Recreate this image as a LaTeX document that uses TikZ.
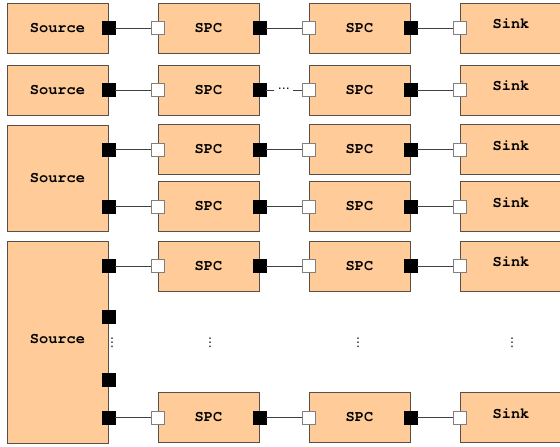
\documentclass[tikz,border=0pt]{standalone}
\usepackage{fontspec}
\newfontfamily\blockfont{TeX Gyre Cursor}
\newfontfamily\dotsfont{DejaVu Sans}
\usepackage{tikz}
\usetikzlibrary{positioning,calc}
\definecolor{blockfill}{HTML}{FFCC99}
\definecolor{blockline}{HTML}{5A5048}
\definecolor{portline}{HTML}{808080}
\definecolor{wireline}{HTML}{404040}
\def\px{0.75pt}

\begin{document}
\begin{tikzpicture}[
    x=\px, y=-\px,
    block/.style={rectangle, draw=blockline, fill=blockfill, line width=0.7pt,
                  minimum width=101*\px, minimum height=50*\px, inner sep=0pt,
                  font=\blockfont\bfseries\fontsize{11.5}{13}\selectfont},
    sinkblock/.style={block, minimum width=102*\px, text depth=6pt},
    outport/.style={rectangle, draw=black, fill=black, minimum size=13*\px, inner sep=0pt},
    inport/.style={rectangle, draw=portline, fill=white, line width=0.6pt,
                   minimum size=13*\px, inner sep=0pt},
    wire/.style={draw=wireline, line width=0.6pt},
    dotsnode/.style={inner sep=0pt, font=\dotsfont\fontsize{9}{10}\selectfont}
]
\useasboundingbox (0,0) rectangle (560,446);

% row 1: source -> spc -> spc -> sink
\node[block]     (src1)  at (57.5,28)  {Source};
\node[block]     (spc1a) at (208.5,28) {SPC};
\node[block]     (spc1b) at (359.5,28) {SPC};
\node[sinkblock] (snk1)  at (511,28)   {Sink};

% row 2: same chain, with more spc in between
\node[block]     (src2)  at (57.5,90)  {Source};
\node[block]     (spc2a) at (208.5,90) {SPC};
\node[block]     (spc2b) at (359.5,90) {SPC};
\node[sinkblock] (snk2)  at (511,90)   {Sink};

% row 3: one source, two chains
\node[block, minimum height=106*\px] (src3) at (57.5,178) {Source};
\node[block]     (spc3a) at (208.5,149.5) {SPC};
\node[block]     (spc3b) at (359.5,149.5) {SPC};
\node[sinkblock] (snk3a) at (511,149.5)   {Sink};
\node[block]     (spc3c) at (208.5,206.5) {SPC};
\node[block]     (spc3d) at (359.5,206.5) {SPC};
\node[sinkblock] (snk3b) at (511,206.5)   {Sink};

% row 4: one source, n chains
\node[block, minimum height=202*\px, text depth=4pt] (src4) at (57.5,342) {Source};
\node[block]     (spc4a) at (208.5,266) {SPC};
\node[block]     (spc4b) at (359.5,266) {SPC};
\node[sinkblock] (snk4a) at (511,266)   {Sink};
\node[block]     (spc4c) at (208.5,417.5) {SPC};
\node[block]     (spc4d) at (359.5,417.5) {SPC};
\node[sinkblock] (snk4b) at (511,417.5)   {Sink};

% ports
\node[outport] (src1o)  at (src1.east)  {};
\node[inport]  (spc1ai) at (spc1a.west) {};
\node[outport] (spc1ao) at (spc1a.east) {};
\node[inport]  (spc1bi) at (spc1b.west) {};
\node[outport] (spc1bo) at (spc1b.east) {};
\node[inport]  (snk1i)  at (snk1.west)  {};

\node[outport] (src2o)  at (src2.east)  {};
\node[inport]  (spc2ai) at (spc2a.west) {};
\node[outport] (spc2ao) at (spc2a.east) {};
\node[inport]  (spc2bi) at (spc2b.west) {};
\node[outport] (spc2bo) at (spc2b.east) {};
\node[inport]  (snk2i)  at (snk2.west)  {};

\node[outport] (src3o1) at (src3.east |- spc3a.west) {};
\node[outport] (src3o2) at (src3.east |- spc3c.west) {};
\node[inport]  (spc3ai) at (spc3a.west) {};
\node[outport] (spc3ao) at (spc3a.east) {};
\node[inport]  (spc3bi) at (spc3b.west) {};
\node[outport] (spc3bo) at (spc3b.east) {};
\node[inport]  (snk3ai) at (snk3a.west) {};
\node[inport]  (spc3ci) at (spc3c.west) {};
\node[outport] (spc3co) at (spc3c.east) {};
\node[inport]  (spc3di) at (spc3d.west) {};
\node[outport] (spc3do) at (spc3d.east) {};
\node[inport]  (snk3bi) at (snk3b.west) {};

\node[outport] (src4o1) at (src4.east |- spc4a.west) {};
\node[outport] (src4o2) at (src4.east |- 0,316.5) {};
\node[outport] (src4o3) at (src4.east |- 0,380) {};
\node[outport] (src4o4) at (src4.east |- spc4c.west) {};
\node[inport]  (spc4ai) at (spc4a.west) {};
\node[outport] (spc4ao) at (spc4a.east) {};
\node[inport]  (spc4bi) at (spc4b.west) {};
\node[outport] (spc4bo) at (spc4b.east) {};
\node[inport]  (snk4ai) at (snk4a.west) {};
\node[inport]  (spc4ci) at (spc4c.west) {};
\node[outport] (spc4co) at (spc4c.east) {};
\node[inport]  (spc4di) at (spc4d.west) {};
\node[outport] (spc4do) at (spc4d.east) {};
\node[inport]  (snk4bi) at (snk4b.west) {};

% wires
\draw[wire] (src1o) -- (spc1ai);
\draw[wire] (spc1ao) -- (spc1bi);
\draw[wire] (spc1bo) -- (snk1i);
\draw[wire] (src2o) -- (spc2ai);
\draw[wire] (spc2ao) -- node[dotsnode, fill=white, minimum width=19*\px] {⋯} (spc2bi);
\draw[wire] (spc2bo) -- (snk2i);
\draw[wire] (src3o1) -- (spc3ai);
\draw[wire] (spc3ao) -- (spc3bi);
\draw[wire] (spc3bo) -- (snk3ai);
\draw[wire] (src3o2) -- (spc3ci);
\draw[wire] (spc3co) -- (spc3di);
\draw[wire] (spc3do) -- (snk3bi);
\draw[wire] (src4o1) -- (spc4ai);
\draw[wire] (spc4ao) -- (spc4bi);
\draw[wire] (spc4bo) -- (snk4ai);
\draw[wire] (src4o4) -- (spc4ci);
\draw[wire] (spc4co) -- (spc4di);
\draw[wire] (spc4do) -- (snk4bi);

% vertical dots
\node[dotsnode] (vd1) at (112,343) {⋮};
\node[dotsnode] (vd2) at (210,343) {⋮};
\node[dotsnode] (vd3) at (358,343) {⋮};
\node[dotsnode] (vd4) at (512,343) {⋮};
\end{tikzpicture}
\end{document}
